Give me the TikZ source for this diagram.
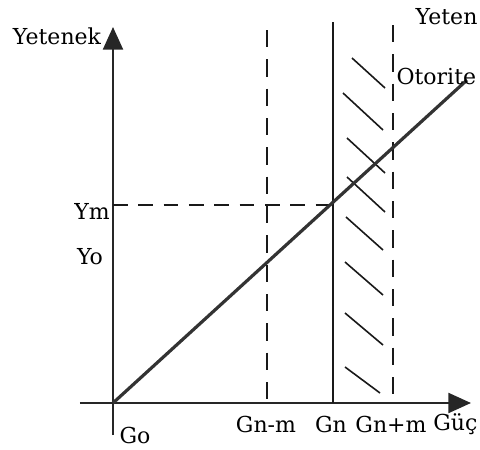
\documentclass[tikz,border=0pt]{standalone}
\usepackage{fontspec}
\setmainfont{DejaVu Serif}
\usetikzlibrary{arrows.meta, positioning}
\tikzset{
    >=Latex,
    font=\fontsize{16.5}{19}\selectfont,
    grf_axis/.style={
        line width=1.7pt,
        draw=black!85,
        -{Triangle[length=17pt, width=15pt]}
    },
    grf_level/.style={
        line width=1.4pt,
        draw=black!90
    },
    grf_guide/.style={
        line width=1.4pt,
        draw=black!90,
        dash pattern=on 13pt off 9pt
    },
    grf_ym/.style={
        line width=1.2pt,
        draw=black!90,
        dash pattern=on 11pt off 8pt
    },
    grf_authority/.style={
        line width=2.4pt,
        draw=black!80
    },
    grf_hatch/.style={
        line width=1.2pt,
        draw=black!90
    },
    grf_label/.style={
        inner sep=1pt,
        text=black
    }
}

\begin{document}
\begin{tikzpicture}[x=0.75pt, y=-0.75pt]
\useasboundingbox (0,0) rectangle (480,450);

% --- Axes ---
\coordinate (Origin) at (113,403);
\coordinate (YBottom) at (113,435);
\coordinate (YTop) at (113,27);
\coordinate (XLeft) at (80,403);
\coordinate (XRight) at (471,403);
\draw[grf_axis] (YBottom) -- (YTop);
\draw[grf_axis] (XLeft) -- (XRight);

% --- Power levels ---
\coordinate (GnmTop) at (267,30);
\coordinate (GnmBase) at (267,403);
\coordinate (GnTop) at (333,22);
\coordinate (GnBase) at (333,403);
\coordinate (GnpTop) at (393,25);
\coordinate (GnpBase) at (393,403);
\draw[grf_guide] (GnmTop) -- (GnmBase);
\draw[grf_level] (GnTop) -- (GnBase);
\draw[grf_guide] (GnpTop) -- (GnpBase);

% --- Hatched zone ---
\foreach \ya/\xa/\yb/\xb in {58/352/88/385, 93/343/130/383, 138/347/173/385,
    177/347/212/385, 217/346/250/383, 262/345/295/383, 313/345/345/383, 367/345/393/380}
    \draw[grf_hatch] (\xa,\ya) -- (\xb,\yb);

% --- Authority line ---
\coordinate (AuthEnd) at (467,80);
\coordinate (YmAxis) at (113,205);
\coordinate (YmCross) at (333,205);
\draw[grf_ym] (YmAxis) -- (YmCross);
\draw[grf_authority] (Origin) -- (AuthEnd);

% --- Labels ---
\node[grf_label] (Yetenek) at (57,36) {Yetenek};
\node[grf_label, anchor=east] (YetenCut) at (479,17) {Yeten};
\node[grf_label, anchor=west] (Otorite) at (395,76) {Otorite};
\node[grf_label] (Ym) at (92,211) {Ym};
\node[grf_label] (Yo) at (90,257) {Yo};
\node[grf_label] (Gnm) at (266,424) {Gn-m};
\node[grf_label] (Gn) at (331,424) {Gn};
\node[grf_label] (Gnp) at (391,424) {Gn+m};
\node[grf_label, anchor=east] (Guc) at (479,424) {Güç};
\node[grf_label] (Go) at (135,435) {Go};

\end{tikzpicture}
\end{document}
